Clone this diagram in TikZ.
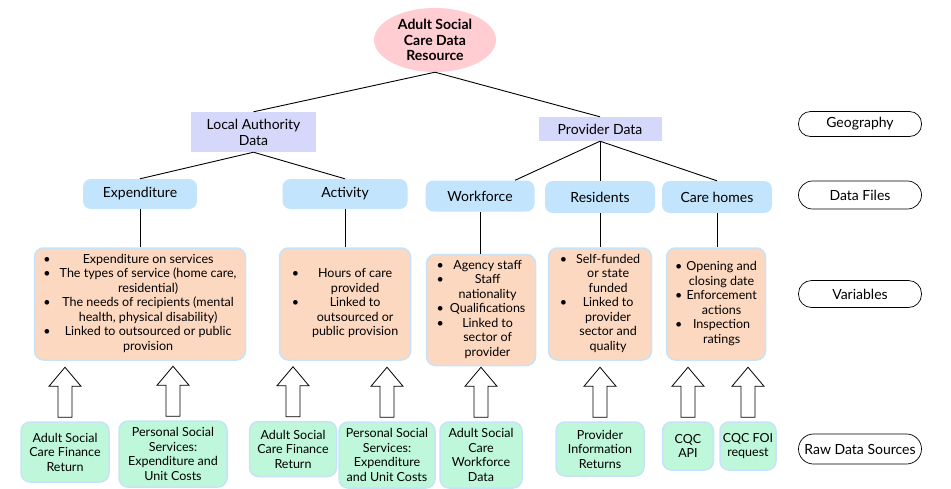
\documentclass[tikz,border=0pt]{standalone}
\usepackage{fontspec}
\setmainfont{Lato}
\usetikzlibrary{calc,shapes.geometric}
\definecolor{rootpink}{HTML}{FFCDD2}
\definecolor{grouplav}{HTML}{D6D8FB}
\definecolor{fileblue}{HTML}{C2E4FC}
\definecolor{varpeach}{HTML}{FDD8C1}
\definecolor{srcmint}{HTML}{BFF7DA}
\definecolor{edgeblue}{HTML}{C5E3F9}
\newcommand{\varitem}[1]{\textbullet & \begin{tabular}[t]{@{}c@{}}#1\end{tabular}\\}
\newcommand{\varlist}[2]{\begin{tabular}{@{}l@{\hspace{#1}}c@{}}#2\end{tabular}}
\newcommand{\upblock}[1]{\draw[blockarrow] ($(#1.north)+(-7,-4)$) -- ++(0,-31) -- ++(-9,0) -- ++(16,-19) -- ++(16,19) -- ++(-9,0) -- ++(0,31) -- cycle;}

\begin{document}
\begin{tikzpicture}[x=1pt,y=-1pt,
  every node/.style={font=\fontsize{12.5}{14.5}\selectfont, inner sep=0pt, align=center},
  rootnode/.style={ellipse, fill=rootpink, minimum width=122pt, minimum height=64pt, font=\fontsize{14}{15.5}\selectfont\bfseries},
  groupbox/.style={fill=grouplav, minimum height=24pt, font=\fontsize{14}{16}\selectfont},
  filebox/.style={fill=fileblue, rounded corners=8pt, minimum height=30pt, font=\fontsize{14}{16}\selectfont},
  varbox/.style={fill=varpeach, draw=edgeblue, line width=1.5pt, rounded corners=9pt, minimum height=112pt},
  srcbox/.style={fill=srcmint, draw=edgeblue, line width=1.5pt, rounded corners=9pt},
  legendbox/.style={draw, line width=0.7pt, rounded corners=12pt, minimum width=123pt, minimum height=25pt, font=\fontsize{14}{16}\selectfont},
  link/.style={line width=0.9pt},
  blockarrow/.style={draw, fill=white, line width=0.8pt}]
  \useasboundingbox (0,0) rectangle (951,488);

  %%%%% TREE %%%%%
  \node[rootnode] (root) at (435,40) {Adult Social\\Care Data\\Resource};

  \node[groupbox, minimum width=125pt, minimum height=40pt] (la) at (253.5,132) {Local Authority\\Data};
  \node[groupbox, minimum width=123pt] (pd) at (600,129) {Provider Data};

  \node[filebox, minimum width=114pt] (exp) at (140,194) {Expenditure};
  \node[filebox, minimum width=125pt] (act) at (345,194) {Activity};
  \node[filebox, minimum width=109pt, minimum height=31pt] (wf) at (480,196) {Workforce};
  \node[filebox, minimum width=110pt, minimum height=32pt] (res) at (600,197) {Residents};
  \node[filebox, minimum width=110pt, minimum height=32pt] (ch) at (717,197) {Care homes};

  %%%%% VARIABLES %%%%%
  \node[varbox, minimum width=211pt] (v1) at (140,304) {\varlist{9pt}{%
    \varitem{Expenditure on services}
    \varitem{The types of service (home care,\\residential)}
    \varitem{The needs of recipients (mental\\health, physical disability)}
    \varitem{Linked to outsourced or public\\provision}}};
  \node[varbox, minimum width=131pt] (v2) at (345,304) {\varlist{13pt}{%
    \varitem{Hours of care\\provided}
    \varitem{Linked to\\outsourced or\\public provision}}};
  \node[varbox, minimum width=109pt, minimum height=111pt] (v3) at (481,310) {\varlist{6pt}{%
    \varitem{Agency staff}
    \varitem{Staff\\nationality}
    \varitem{Qualifications}
    \varitem{Linked to\\sector of\\provider}}};
  \node[varbox, minimum width=103pt] (v4) at (600,304) {\varlist{9pt}{%
    \varitem{Self-funded\\or state\\funded}
    \varitem{Linked to\\provider\\sector and\\quality}}};
  \node[varbox, minimum width=99pt] (v5) at (716,304) {\varlist{4pt}{%
    \varitem{Opening and\\closing date}
    \varitem{Enforcement\\actions}
    \varitem{Inspection\\ratings}}};

  %%%%% SOURCES %%%%%
  \node[srcbox, minimum width=88pt, minimum height=60pt] (s1) at (65,452) {Adult Social\\Care Finance\\Return};
  \node[srcbox, minimum width=108pt, minimum height=66pt] (s2) at (173,454) {Personal Social\\Services:\\Expenditure and\\Unit Costs};
  \node[srcbox, minimum width=87pt, minimum height=55pt] (s3) at (293,449) {Adult Social\\Care Finance\\Return};
  \node[srcbox, minimum width=96pt, minimum height=66pt] (s4) at (387,455) {Personal Social\\Services:\\Expenditure\\and Unit Costs};
  \node[srcbox, minimum width=82pt, minimum height=66pt] (s5) at (481,455) {Adult Social\\Care\\Workforce\\Data};
  \node[srcbox, minimum width=88pt, minimum height=54pt] (s6) at (600,449) {Provider\\Information\\Returns};
  \node[srcbox, minimum width=51pt, minimum height=48pt] (s7) at (688,446) {CQC\\API};
  \node[srcbox, minimum width=56pt, minimum height=48pt] (s8) at (748,446) {CQC FOI\\request};

  %%%%% LEGEND %%%%%
  \node[legendbox] (lgeo) at (860,124) {Geography};
  \node[legendbox, minimum height=28pt, rounded corners=14pt] (lfile) at (860,195) {Data Files};
  \node[legendbox, minimum height=27pt, rounded corners=13pt] (lvar) at (860,294) {Variables};
  \node[legendbox, minimum height=30pt, rounded corners=15pt] (lsrc) at (860,449) {Raw Data Sources};

  %%%%% LINKS %%%%%
  \draw[link] (root.south) -- (la.north);
  \draw[link] (root.south) -- (pd.north);
  \draw[link] (la.south) -- (exp.north);
  \draw[link] (la.south) -- (act.north);
  \draw[link] (pd.south) -- ([xshift=35pt]wf.north);
  \draw[link] (pd.south) -- (res.north);
  \draw[link] (pd.south) -- (ch.north);
  \draw[link] (exp.south) -- (exp.south |- v1.north);
  \draw[link] (act.south) -- (act.south |- v2.north);
  \draw[link] (wf.south) -- (wf.south |- v3.north);
  \draw[link] (res.south) -- (res.south |- v4.north);
  \draw[link] (ch.south) -- (ch.south |- v5.north);

  %%%%% BLOCK ARROWS %%%%%
  \foreach \src in {s1,s2,s3,s4,s5,s6,s7,s8}{\upblock{\src}}
\end{tikzpicture}
\end{document}
